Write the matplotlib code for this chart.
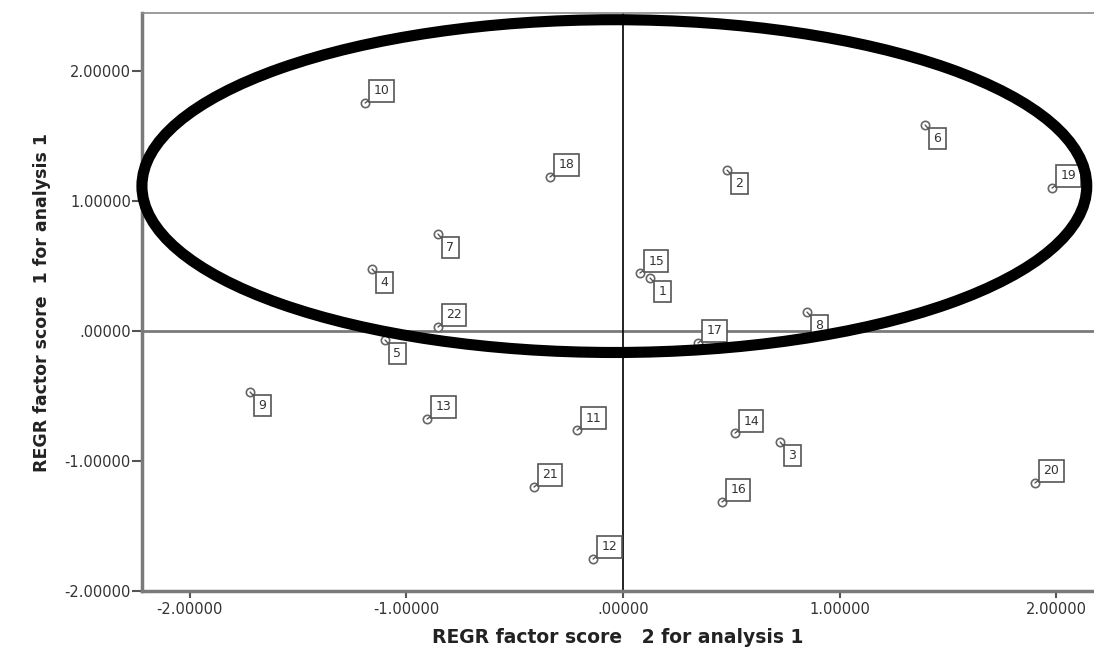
import matplotlib
matplotlib.use("Agg")
import matplotlib.pyplot as plt
from matplotlib.patches import Ellipse

# factor scores
case_ids = [1, 2, 3, 4, 5, 6, 7, 8, 9, 10, 11,
            12, 13, 14, 15, 16, 17, 18, 19, 20, 21, 22]
score2 = [0.125, 0.48, 0.725, -1.158, -1.098, 1.394, -0.854, 0.849, -1.721, -1.19, -0.212,
          -0.138, -0.904, 0.517, 0.078, 0.457, 0.346, -0.337, 1.98, 1.901, -0.411, -0.854]
score1 = [0.408, 1.238, -0.854, 0.477, -0.069, 1.585, 0.746, 0.146, -0.469, 1.754, -0.762,
          -1.754, -0.677, -0.785, 0.446, -1.315, -0.092, 1.185, 1.10, -1.169, -1.20, 0.031]
# cases whose label box sits below-right of the point
labels_below = {1, 2, 3, 4, 5, 6, 7, 8, 9}

xticks = [-2, -1, 0, 1, 2]
yticks = [-2, -1, 0, 1, 2]


def fmt(v):
    s = "%.5f" % v
    return s.replace("0.", ".", 1) if v == 0 else s


fig = plt.figure(figsize=(10.94, 6.54), dpi=100)
ax = fig.add_axes([0.1298, 0.0963, 1 - 0.1298, 0.980 - 0.0963])
ax.set_xlim(-2.2197, 2.1735)
ax.set_ylim(-2.0, 2.446)

for side in ["left", "bottom"]:
    ax.spines[side].set_color("#7a7a7a")
    ax.spines[side].set_linewidth(2.5)
ax.spines["top"].set_color("#8a8a8a")
ax.spines["top"].set_linewidth(1.2)
ax.spines["right"].set_visible(False)

ax.set_xticks(xticks)
ax.set_xticklabels([fmt(v) for v in xticks])
ax.set_yticks(yticks)
ax.set_yticklabels([fmt(v) for v in yticks])
ax.tick_params(axis="both", colors="#555555", labelcolor="#333333",
               labelsize=10.5, width=1.5)
ax.tick_params(axis="y", length=7, pad=1)
ax.tick_params(axis="x", length=5, pad=3)

# reference lines through the origin
ax.axhline(0, color="#7a7a7a", lw=2, zorder=1)
ax.axvline(0, color="#111111", lw=1.3, zorder=1)

# points
ax.scatter(score2, score1, s=36, facecolors="white", edgecolors="#666666",
           linewidths=1.2, zorder=3)

for cid, x, y in zip(case_ids, score2, score1):
    if cid in labels_below:
        off, va = (6, -5), "top"
    else:
        off, va = (6, 4), "bottom"
    ax.annotate(str(cid), xy=(x, y), xytext=off, textcoords="offset points",
                ha="left", va=va, fontsize=9, color="#333333", zorder=4,
                bbox=dict(boxstyle="square,pad=0.35", fc="white",
                          ec="#555555", lw=1.2),
                arrowprops=dict(arrowstyle="-", color="#555555", lw=1,
                                shrinkA=0, shrinkB=0))

# highlight ellipse
ell = Ellipse((-0.04, 1.115), 4.36, 2.56, fill=False, ec="black", lw=8,
              zorder=5, clip_on=False)
ax.add_patch(ell)

ax.set_xlabel("REGR factor score   2 for analysis 1", fontsize=13.5,
              fontweight="bold", color="#222222", labelpad=8)
ax.set_ylabel("REGR factor score  1 for analysis 1", fontsize=12.5,
              fontweight="bold", color="#222222", labelpad=10)

fig.savefig("out.png", dpi=100)
